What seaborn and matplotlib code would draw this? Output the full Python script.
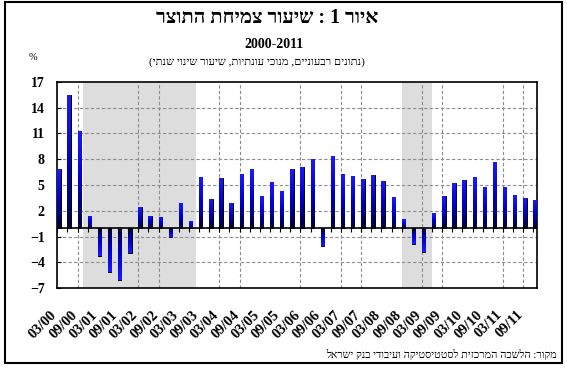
import matplotlib

matplotlib.use("Agg")

import matplotlib.pyplot as plt
import matplotlib.transforms as mtransforms
import numpy as np
import pandas as pd
import seaborn as sns
from matplotlib.colors import LinearSegmentedColormap
from matplotlib.patches import Rectangle

# quarterly GDP growth, seasonally adjusted, annualised (%), 2000Q1..2011Q4
YEARS = list(range(2000, 2012))
MONTHS = ["03", "06", "09", "12"]
GROWTH = [
    6.9, 15.4, 11.3, 1.4,
    -3.2, -5.1, -6.0, -2.9,
    2.4, 1.4, 1.3, -1.0,
    2.9, 0.8, 5.9, 3.4,
    5.8, 2.9, 6.3, 6.9,
    3.7, 5.3, 4.3, 6.9,
    7.1, 8.0, -2.1, 8.4,
    6.3, 6.0, 5.7, 6.2,
    5.5, 3.6, 1.0, -1.8,
    -2.8, 1.7, 3.7, 5.2,
    5.6, 5.9, 4.8, 7.7,
    4.8, 3.8, 3.5, 3.3,
]
Y_TICKS = list(range(-7, 18, 3))
SHADED = [(2.5, 13.7), (34.0, 37.0)]  # in quarter slots
VGRID = [2, 8, 10, 16, 18, 24, 28, 30, 36, 38, 44, 46]

TITLE = "איור 1 : שיעור צמיחת התוצר"
SUBTITLE = "2000-2011"
NOTE = "נתונים רבעוניים, מנוכי עונתיות, שיעור שינוי שנתי"
SOURCE = "מקור: הלשכה המרכזית לסטטיסטיקה ועיבודי בנק ישראל"


def rtl(text: str) -> str:
    return text[::-1]


quarters = [f"{m}/{str(y)[2:]}" for y in YEARS for m in MONTHS]
df = pd.DataFrame({"quarter": quarters, "growth": GROWTH})

W, H = 567, 373
fig = plt.figure(figsize=(W / 100, H / 100), dpi=100)
ax = fig.add_axes([57.3 / W, 1 - 288.3 / H, (536.7 - 57.3) / W, (288.3 - 81.7) / H])

bw = 0.33
half = bw / 2
sns.barplot(
    data=df, x="quarter", y="growth", order=quarters, width=bw,
    color="#0000ee", edgecolor="black", linewidth=0.7, ax=ax, zorder=3,
)

# gradient fill: dark near zero, bright blue at the tip
cmap = LinearSegmentedColormap.from_list("bar", ["#00003a", "#0000cc", "#1a1aff"])
grad = np.linspace(0, 1, 64).reshape(-1, 1)
for p in list(ax.patches):
    x0, y0, w, h = p.get_x(), p.get_y(), p.get_width(), p.get_height()
    lo, hi = min(y0, y0 + h), max(y0, y0 + h)
    img = ax.imshow(
        grad if h >= 0 else grad[::-1], extent=[x0, x0 + w, lo, hi],
        origin="lower", cmap=cmap, aspect="auto", zorder=3.5,
    )
    img.set_clip_path(p)

for a, b in SHADED:
    ax.axvspan(a - half, b - half, color="#dddddd", zorder=0, lw=0)

for y in Y_TICKS[1:-1]:
    ax.axhline(y, color="#8c8c8c", lw=0.8, ls=(0, (3, 2)), zorder=1)
for v in VGRID:
    ax.axvline(v - half, color="#8c8c8c", lw=0.8, ls=(0, (3, 2)), zorder=1)
ax.axhline(0, color="black", lw=1.2, zorder=4)
ax.vlines(np.arange(len(quarters)) - half, -0.45, 0, color="black", lw=0.8, zorder=4)

# x labels every half year, drawn as text so they can sit below/left of the slot
ax.set_xticks([])
shift = mtransforms.ScaledTranslation(-7 / 100, -20 / 100, fig.dpi_scale_trans)
for i in range(0, len(quarters), 2):
    ax.text(i - half, 0, quarters[i], transform=ax.get_xaxis_transform() + shift,
            rotation=45, ha="right", va="top", rotation_mode="anchor",
            fontsize=10.5, fontweight="bold", family="Liberation Serif")

ax.set_yticks(Y_TICKS)
ax.set_xlim(-half, len(quarters) - 1 + half)
ax.set_ylim(-7, 17)
ax.tick_params(axis="y", length=3, direction="in", pad=9)
for lab in ax.get_yticklabels():
    lab.set_fontsize(10)
    lab.set_fontweight("bold")
    lab.set_family("Liberation Serif")
ax.set_xlabel("")
ax.set_ylabel("")
for s in ax.spines.values():
    s.set_color("black")
    s.set_linewidth(1.2)

heb = ["Liberation Serif", "DejaVu Sans"]
fig.text(267 / W, 1 - 18 / H, rtl(TITLE), ha="center", va="center",
         fontsize=14.5, fontweight="bold", family=heb)
fig.text(274 / W, 1 - 45 / H, SUBTITLE, ha="center", va="center",
         fontsize=10, fontweight="bold", family="Liberation Serif")
fig.text(257 / W, 1 - 62 / H, "(" + rtl(NOTE) + ")", ha="center", va="center",
         fontsize=8.1, family=heb)
fig.text(33 / W, 1 - 58 / H, "%", ha="center", va="center", fontsize=7.5,
         family="Liberation Serif")
fig.text(557 / W, 1 - 355 / H, rtl(SOURCE), ha="right", va="center",
         fontsize=7.8, family=heb)

fig.add_artist(Rectangle((5 / W, 1 - 363 / H), (562 - 5) / W, (363 - 1.5) / H,
                         transform=fig.transFigure, fill=False, lw=1.5,
                         edgecolor="black"))

fig.savefig("out.png", dpi=100, facecolor="white")
